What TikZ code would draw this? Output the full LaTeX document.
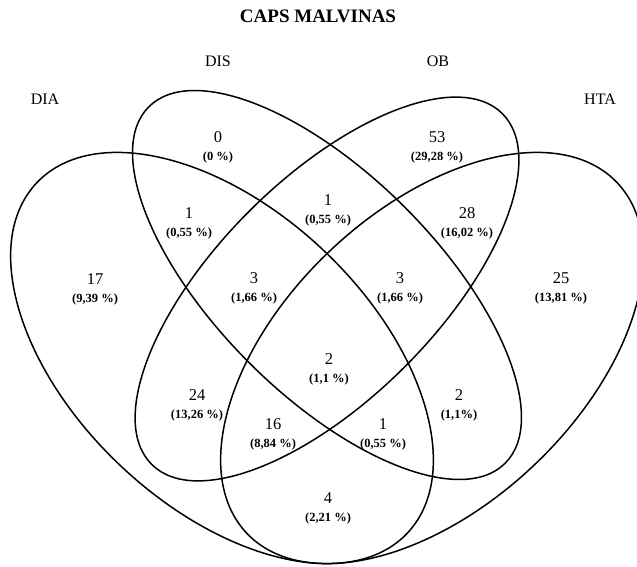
\documentclass[tikz,border=0pt]{standalone}
\usepackage{fontspec}
\setmainfont{Liberation Serif}
\tikzset{
  set/.style={draw=black,line width=1.5pt},
  setlbl/.style={font=\fontsize{16}{18}\selectfont},
  cnt/.style={align=center,inner sep=0pt,font=\fontsize{16.5}{18}\selectfont}
}
\newcommand{\pct}[1]{{\fontsize{12.5}{18}\selectfont\bfseries #1}}

\begin{document}
\begin{tikzpicture}[x=1pt,y=1pt]
    \useasboundingbox (0,0) rectangle (637,-567);
    \clip (0,0) rectangle (637,-567);
    \node[font=\fontsize{19}{20}\selectfont\bfseries] (title) at (318,-16) {CAPS MALVINAS};
    % the four sets
    \draw[set,rotate around={-43.4:(222,-358)}] (222,-358) ellipse [x radius=255,y radius=148];
    \draw[set,rotate around={43.4:(432,-358)}] (432,-358) ellipse [x radius=255,y radius=148];
    \draw[set,rotate around={-45:(327,-285)}] (327,-285) ellipse [x radius=252,y radius=110];
    \draw[set,rotate around={45:(327,-289)}] (327,-289) ellipse [x radius=248,y radius=110];
    \node[setlbl] (dia) at (45,-99)  {DIA};
    \node[setlbl] (dis) at (218,-61) {DIS};
    \node[setlbl] (ob)  at (438,-61) {OB};
    \node[setlbl] (hta) at (600,-99) {HTA};
    % counts per region
    \node[cnt] (r-dis)        at (218,-147) {0\\\pct{(0 \%)}};
    \node[cnt] (r-ob)         at (437,-147) {53\\\pct{(29,28 \%)}};
    \node[cnt] (r-dia-dis)    at (189,-223) {1\\\pct{(0,55 \%)}};
    \node[cnt] (r-dis-ob)     at (328,-210) {1\\\pct{(0,55 \%)}};
    \node[cnt] (r-ob-hta)     at (467,-223) {28\\\pct{(16,02 \%)}};
    \node[cnt] (r-dia)        at (95,-289)  {17\\\pct{(9,39 \%)}};
    \node[cnt] (r-dia-dis-ob) at (254,-288) {3\\\pct{(1,66 \%)}};
    \node[cnt] (r-dis-ob-hta) at (400,-288) {3\\\pct{(1,66 \%)}};
    \node[cnt] (r-hta)        at (561,-288) {25\\\pct{(13,81 \%)}};
    \node[cnt] (r-all)        at (329,-369) {2\\\pct{(1,1 \%)}};
    \node[cnt] (r-dia-ob)     at (197,-405) {24\\\pct{(13,26 \%)}};
    \node[cnt] (r-dis-hta)    at (459,-405) {2\\\pct{(1,1\%)}};
    \node[cnt] (r-dia-ob-hta) at (273,-434) {16\\\pct{(8,84 \%)}};
    \node[cnt] (r-dia-dis-hta) at (383,-434) {1\\\pct{(0,55 \%)}};
    \node[cnt] (r-dia-hta)    at (328,-508) {4\\\pct{(2,21 \%)}};
\end{tikzpicture}
\end{document}
